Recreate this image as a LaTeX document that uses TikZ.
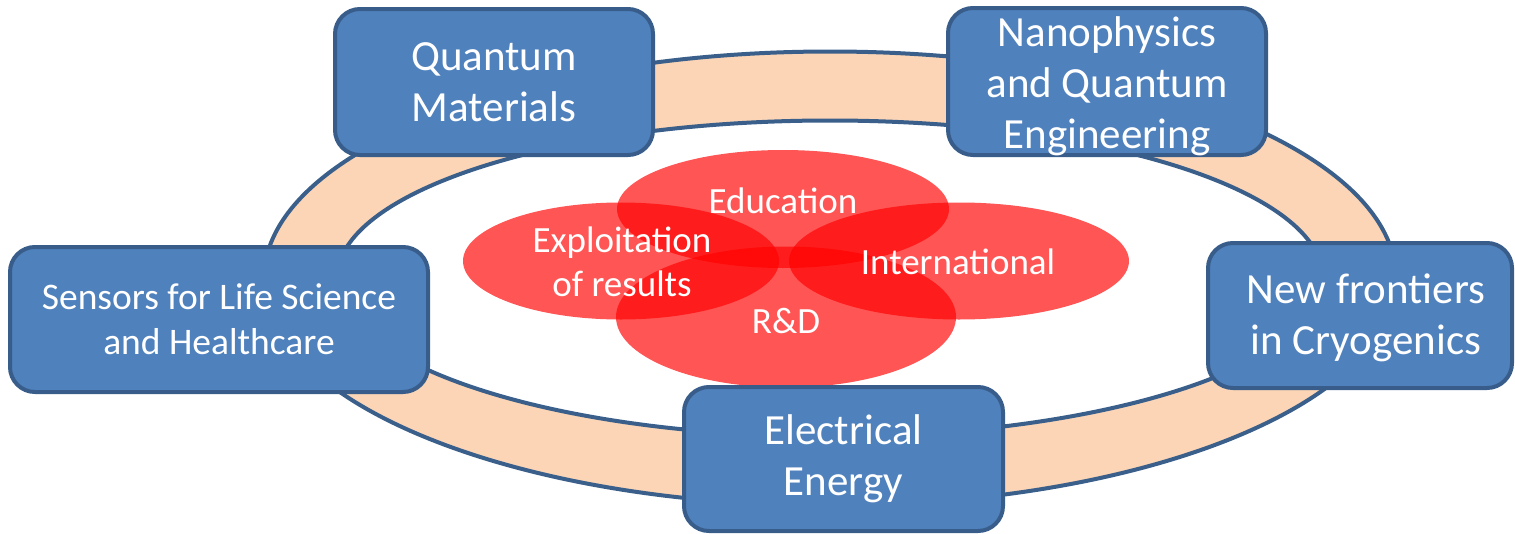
\documentclass[tikz,border=0pt]{standalone}
\usepackage{fontspec}
\setmainfont{Carlito}
\usetikzlibrary{shapes.geometric}
\definecolor{peach}{HTML}{FBD5B5}
\definecolor{ringblue}{HTML}{3A5F8B}
\definecolor{boxfill}{HTML}{4F81BD}
\definecolor{boxline}{HTML}{385D8A}
\tikzset{
  topic/.style={draw=boxline, line width=4pt, fill=boxfill, rounded corners=25pt,
    text=white, align=center, inner sep=0pt, font=\fontsize{43}{51}\selectfont},
  topictext/.style={text=white, align=center, inner sep=0pt, font=\fontsize{43}{51}\selectfont},
  petal/.style={ellipse, fill=red, fill opacity=0.667, draw=none, inner sep=0pt},
  petaltext/.style={text=white, align=center, font=\fontsize{37}{44}\selectfont},
}
\begin{document}
\begin{tikzpicture}[x=1pt,y=-1pt]
\useasboundingbox (0,0) rectangle (1515,533);
\coordinate (rc) at (830,278.5);
% ring
\path[fill=peach, draw=ringblue, line width=4pt, even odd rule]
  (rc) ellipse [x radius=566, y radius=227]
  (rc) ellipse [x radius=493, y radius=158];
% petals
\node[petal, minimum width=332, minimum height=118] (edu) at (783,209) {};
\node[petal, minimum width=316, minimum height=117] (exp) at (621,261) {};
\node[petal, minimum width=340, minimum height=117] (int) at (959,261) {};
\node[petal, minimum width=340, minimum height=141] (rd) at (786,317) {};
\node[petaltext] (edut) at (783,201) {Education};
\node[petaltext] (expt) at (622,262) {Exploitation\\of results};
\node[petaltext] (intt) at (958,262) {International};
\node[petaltext] (rdt) at (786,321) {R\&D};
% topic boxes
\node[topic, minimum width=318, minimum height=146] (qm) at (494,82) {Quantum\\Materials};
\node[topic, minimum width=318, minimum height=147] (nano) at (1107,81.5) {};
\node[topictext] (nanot) at (1107,86) {Nanophysics\\and Quantum\\Engineering};
\node[topic, minimum width=418, minimum height=145, font=\fontsize{37.5}{45}\selectfont] (sens) at (219,319.5) {Sensors for Life Science\\and Healthcare};
\node[topic, minimum width=304, minimum height=145] (cryo) at (1360,315.5) {};
\node[topictext] (cryot) at (1366,318) {New frontiers\\in Cryogenics};
\node[topic, minimum width=319, minimum height=144] (ee) at (843.5,459) {Electrical\\Energy};
\end{tikzpicture}
\end{document}
